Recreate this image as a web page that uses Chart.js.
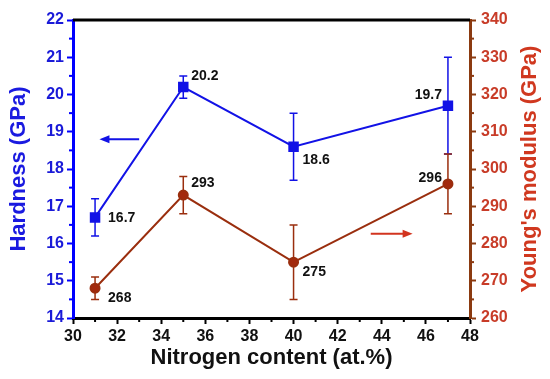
<!DOCTYPE html>
<html>
<head>
<meta charset="utf-8">
<script src="https://cdn.jsdelivr.net/npm/chart.js@4"></script>
<style>
  html, body { margin: 0; padding: 0; background: #fff; }
  #wrap { width: 550px; height: 379px; }
</style>
</head>
<body>
<div id="wrap"><canvas id="chart"></canvas></div>
<script>
// data
const nitrogen = [31, 35, 40, 47];
const hardness = [16.7, 20.2, 18.6, 19.7];
const hardnessErr = [0.5, 0.3, 0.9, 1.3];
const modulus = [268, 293, 275, 296];
const modulusErr = [3, 5, 10, 8];
const hardnessLabels = ["16.7", "20.2", "18.6", "19.7"];
const modulusLabels = ["268", "293", "275", "296"];

// label offsets in px from the marker: [dx, dy, align]
const hardnessLabelPos = [[13, 1, "left"], [8, -11, "left"], [9, 13, "left"], [-6, -11, "right"]];
const modulusLabelPos = [[13, 10, "left"], [8, -12, "left"], [9, 10, "left"], [-6, -6, "right"]];

const FONT = "'Liberation Sans', Arial, sans-serif";
const BLUE = "#1212e6";
const BROWN = "#9a2e0e";
const AXIS_BROWN = "#8b3a10";
const RED = "#d2341f";

// error bars drawn through the scales
const errorBars = {
  id: "errorBars",
  beforeDatasetsDraw(chart) {
    const ctx = chart.ctx;
    const xs = chart.scales.x;
    const sets = [
      { scale: chart.scales.y, vals: hardness, errs: hardnessErr, color: BLUE },
      { scale: chart.scales.y1, vals: modulus, errs: modulusErr, color: BROWN }
    ];
    ctx.save();
    ctx.lineWidth = 1.5;
    sets.forEach(s => {
      ctx.strokeStyle = s.color;
      s.vals.forEach((v, i) => {
        const px = xs.getPixelForValue(nitrogen[i]);
        const top = s.scale.getPixelForValue(v + s.errs[i]);
        const bot = s.scale.getPixelForValue(v - s.errs[i]);
        ctx.beginPath();
        ctx.moveTo(px, top); ctx.lineTo(px, bot);
        ctx.moveTo(px - 4, top); ctx.lineTo(px + 4, top);
        ctx.moveTo(px - 4, bot); ctx.lineTo(px + 4, bot);
        ctx.stroke();
      });
    });
    ctx.restore();
  }
};

// shorter minor ticks
const minorTicks = {
  id: "minorTicks",
  afterDraw(chart) {
    const ctx = chart.ctx;
    const a = chart.chartArea;
    ctx.save();
    ctx.lineWidth = 2;
    chart.scales.x.ticks.forEach(t => {
      if (t.value % 2 === 0) return;
      const px = chart.scales.x.getPixelForValue(t.value);
      ctx.strokeStyle = "#000";
      ctx.beginPath(); ctx.moveTo(px, a.bottom); ctx.lineTo(px, a.bottom + 4); ctx.stroke();
    });
    chart.scales.y.ticks.forEach(t => {
      if (Number.isInteger(t.value)) return;
      const py = chart.scales.y.getPixelForValue(t.value);
      ctx.strokeStyle = "#0000ff";
      ctx.beginPath(); ctx.moveTo(a.left, py); ctx.lineTo(a.left - 4, py); ctx.stroke();
    });
    chart.scales.y1.ticks.forEach(t => {
      if (t.value % 10 === 0) return;
      const py = chart.scales.y1.getPixelForValue(t.value);
      ctx.strokeStyle = AXIS_BROWN;
      ctx.beginPath(); ctx.moveTo(a.right, py); ctx.lineTo(a.right + 4, py); ctx.stroke();
    });
    ctx.restore();
  }
};

// value labels, arrows, top frame and right title
const extras = {
  id: "extras",
  afterDraw(chart) {
    const ctx = chart.ctx;
    const xs = chart.scales.x, ys = chart.scales.y, ys1 = chart.scales.y1;
    const area = chart.chartArea;
    ctx.save();

    // top frame line
    ctx.strokeStyle = "#000";
    ctx.lineWidth = 3;
    ctx.beginPath();
    ctx.moveTo(area.left, area.top);
    ctx.lineTo(area.right, area.top);
    ctx.stroke();

    // value labels
    ctx.font = "bold 14px " + FONT;
    ctx.fillStyle = "#111";
    ctx.textBaseline = "middle";
    hardness.forEach((v, i) => {
      const p = hardnessLabelPos[i];
      ctx.textAlign = p[2];
      ctx.fillText(hardnessLabels[i], xs.getPixelForValue(nitrogen[i]) + p[0], ys.getPixelForValue(v) + p[1]);
    });
    modulus.forEach((v, i) => {
      const p = modulusLabelPos[i];
      ctx.textAlign = p[2];
      ctx.fillText(modulusLabels[i], xs.getPixelForValue(nitrogen[i]) + p[0], ys1.getPixelForValue(v) + p[1]);
    });

    // arrows pointing to each axis
    function arrow(x1, x2, y, color) {
      const dir = Math.sign(x2 - x1);
      ctx.strokeStyle = color;
      ctx.fillStyle = color;
      ctx.lineWidth = 2;
      ctx.beginPath();
      ctx.moveTo(x1, y); ctx.lineTo(x2 - dir * 8, y);
      ctx.stroke();
      ctx.beginPath();
      ctx.moveTo(x2, y);
      ctx.lineTo(x2 - dir * 10, y - 4);
      ctx.lineTo(x2 - dir * 10, y + 4);
      ctx.closePath();
      ctx.fill();
    }
    arrow(xs.getPixelForValue(33.0), xs.getPixelForValue(31.2), ys.getPixelForValue(18.8), BLUE);
    arrow(xs.getPixelForValue(43.5), xs.getPixelForValue(45.4), ys1.getPixelForValue(282.6), RED);

    // right axis title, reading bottom to top
    ctx.font = "bold 22px " + FONT;
    ctx.fillStyle = "#d0381f";
    ctx.textAlign = "center";
    ctx.textBaseline = "middle";
    ctx.translate(530, (area.top + area.bottom) / 2);
    ctx.rotate(-Math.PI / 2);
    ctx.fillText("Young's modulus (GPa)", 0, 0);
    ctx.restore();
  }
};

new Chart(document.getElementById("chart"), {
  type: "line",
  data: {
    datasets: [
      {
        label: "Hardness",
        data: nitrogen.map((x, i) => ({ x: x, y: hardness[i] })),
        yAxisID: "y",
        borderColor: BLUE,
        backgroundColor: BLUE,
        borderWidth: 2,
        pointStyle: "rect",
        pointRadius: 6,
        pointHoverRadius: 6
      },
      {
        label: "Young's modulus",
        data: nitrogen.map((x, i) => ({ x: x, y: modulus[i] })),
        yAxisID: "y1",
        borderColor: BROWN,
        backgroundColor: "#a3290d",
        borderWidth: 2,
        pointStyle: "circle",
        pointRadius: 4.5,
        pointHoverRadius: 4.5
      }
    ]
  },
  options: {
    responsive: true,
    maintainAspectRatio: false,
    animation: false,
    layout: { padding: { top: 20, left: 0, right: 0, bottom: 0 } },
    plugins: { legend: { display: false }, tooltip: { enabled: false } },
    scales: {
      x: {
        type: "linear",
        min: 30, max: 48,
        afterFit(scale) { scale.height = 61; },
        border: { color: "#000", width: 3 },
        grid: {
          drawOnChartArea: false, tickLength: 6, tickWidth: 2,
          tickColor: c => (c.tick && c.tick.value % 2 === 0 ? "#000" : "rgba(0,0,0,0)")
        },
        ticks: {
          stepSize: 1, autoSkip: false, maxRotation: 0, padding: 3,
          color: "#111", font: { family: FONT, size: 16, weight: "bold" },
          callback: v => (v % 2 === 0 ? v : "")
        },
        title: {
          display: true, text: "Nitrogen content (at.%)", color: "#111",
          font: { family: FONT, size: 22, weight: "bold" }, padding: { top: 0, bottom: 8 }
        }
      },
      y: {
        position: "left",
        min: 14, max: 22,
        afterFit(scale) { scale.width = 73; },
        border: { color: "#0000ff", width: 3 },
        grid: {
          drawOnChartArea: false, tickLength: 6, tickWidth: 2,
          tickColor: c => (c.tick && Number.isInteger(c.tick.value) ? "#0000ff" : "rgba(0,0,0,0)")
        },
        ticks: {
          stepSize: 0.5, autoSkip: false, padding: 3,
          color: "#1a1ad8", font: { family: FONT, size: 16, weight: "bold" },
          callback: v => (Number.isInteger(v) ? v : "")
        },
        title: {
          display: true, text: "Hardness (GPa)", color: "#1a1ae0",
          font: { family: FONT, size: 22, weight: "bold" }, padding: { top: 6, bottom: 0 }
        }
      },
      y1: {
        position: "right",
        min: 260, max: 340,
        afterFit(scale) { scale.width = 80; },
        border: { color: AXIS_BROWN, width: 3 },
        grid: {
          drawOnChartArea: false, tickLength: 6, tickWidth: 2,
          tickColor: c => (c.tick && c.tick.value % 10 === 0 ? AXIS_BROWN : "rgba(0,0,0,0)")
        },
        ticks: {
          stepSize: 5, autoSkip: false, padding: 5,
          color: "#c83c28", font: { family: FONT, size: 16, weight: "bold" },
          callback: v => (v % 10 === 0 ? v : "")
        }
      }
    }
  },
  plugins: [errorBars, minorTicks, extras]
});
</script>
</body>
</html>
